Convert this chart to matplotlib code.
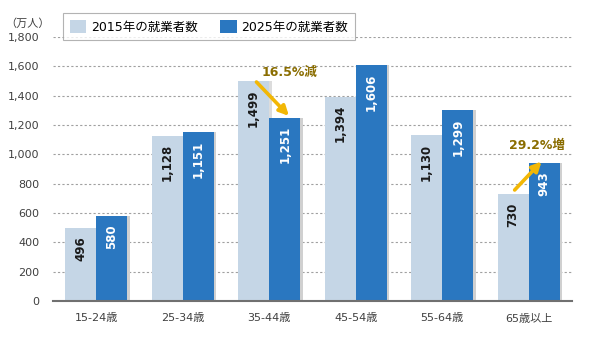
import numpy as np
import matplotlib
matplotlib.use("Agg")
import matplotlib.pyplot as plt

plt.rcParams['font.family'] = ['DejaVu Sans', 'Noto Sans CJK JP']

# data
categories = ['15-24歳', '25-34歳', '35-44歳', '45-54歳', '55-64歳', '65歳以上']
v2015 = [496, 1128, 1499, 1394, 1130, 730]
v2025 = [580, 1151, 1251, 1606, 1299, 943]
series_names = ['2015年の就業者数', '2025年の就業者数']

c_light = '#c5d6e6'
c_dark = '#2a77c0'
c_gold_txt = '#8a6d00'
c_arrow = '#f2b705'

fig = plt.figure(figsize=(5.9, 3.37), dpi=100)
ax = fig.add_axes([53/590, 1 - 301/337, 519/590, 264/337])

x = np.arange(len(categories))
w = 0.36

# shadows
ax.bar(x - w/2 + 0.03, v2015, w, color='#dcdcdc', zorder=1)
ax.bar(x + w/2 + 0.03, v2025, w, color='#d0d0d0', zorder=1)
b1 = ax.bar(x - w/2, v2015, w, color=c_light, label=series_names[0], zorder=2)
b2 = ax.bar(x + w/2, v2025, w, color=c_dark, label=series_names[1], zorder=3)

for xi, v in zip(x, v2015):
    ax.annotate(f'{v:,}', (xi - w/2, v), xytext=(0, -6), textcoords='offset points',
                rotation=90, ha='center', va='top', fontsize=8.5, fontweight='bold',
                color='#1a1a1a', zorder=5)
for xi, v in zip(x, v2025):
    ax.annotate(f'{v:,}', (xi + w/2, v), xytext=(0, -6), textcoords='offset points',
                rotation=90, ha='center', va='top', fontsize=8.5, fontweight='bold',
                color='white', zorder=5)

ax.set_xlim(-0.5, len(categories) - 0.5)
ax.set_ylim(0, 1800)
ax.set_yticks(np.arange(0, 1801, 200))
ax.set_yticklabels([f'{t:,}' for t in range(0, 1801, 200)])
ax.set_xticks(x)
ax.set_xticklabels(categories)
ax.tick_params(axis='both', length=0, labelsize=8, colors='#404040')
ax.tick_params(axis='x', pad=9)
ax.tick_params(axis='y', pad=10)
ax.yaxis.grid(True, linestyle=(0, (2, 2)), color='#a0a0a0', linewidth=0.8, zorder=0)
ax.set_axisbelow(True)
for s in ['top', 'right', 'left']:
    ax.spines[s].set_visible(False)
ax.spines['bottom'].set_color('#707070')
ax.spines['bottom'].set_linewidth(1.5)
ax.spines['bottom'].set_zorder(6)

fig.text(28/590, 1 - 24/337, '（万人）', ha='center', va='center', fontsize=8,
         color='#404040', family='Noto Sans CJK JP')

# arrows and change labels
ax.annotate('', xy=(2 + 0.25, 1248), xytext=(2 - 0.17, 1507),
            arrowprops=dict(arrowstyle='-|>', color=c_arrow, lw=2.6,
                            mutation_scale=14), zorder=7)
ax.text(2.23, 1555, '16.5%減', ha='center', va='center', fontsize=9,
        fontweight='bold', color=c_gold_txt, zorder=7)
ax.annotate('', xy=(5 + 0.17, 965), xytext=(5 - 0.185, 743),
            arrowprops=dict(arrowstyle='-|>', color=c_arrow, lw=2.6,
                            mutation_scale=14), zorder=7)
ax.text(5.09, 1060, '29.2%増', ha='center', va='center', fontsize=9,
        fontweight='bold', color=c_gold_txt, zorder=7)

leg = fig.legend(handles=[b1, b2], loc='upper left',
                 bbox_to_anchor=(63/590, 1 - 13/337), ncol=2, fontsize=9,
                 frameon=True, fancybox=False, edgecolor='#a0a0a0',
                 handlelength=1.3, handleheight=1.2, columnspacing=1.8,
                 borderpad=0.55, handletextpad=0.4, borderaxespad=0)
leg.get_frame().set_linewidth(0.8)

fig.savefig('out.png', dpi=100)
